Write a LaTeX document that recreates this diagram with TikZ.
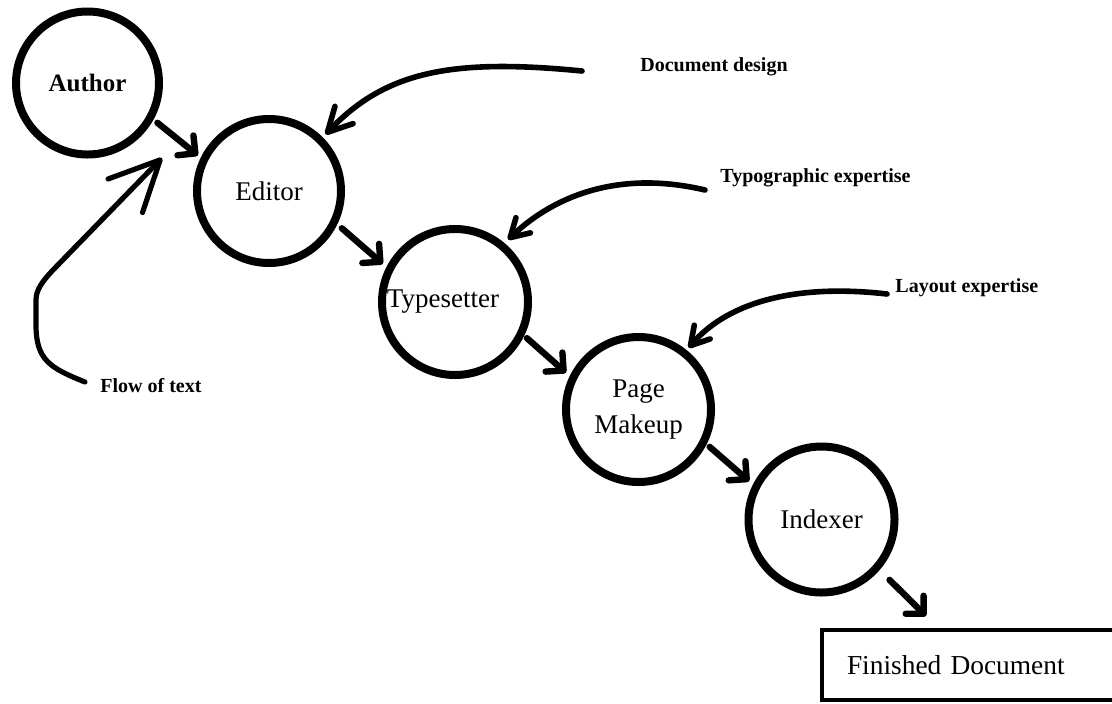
\documentclass[tikz,border=0pt]{standalone}
\usepackage{fontspec}
\setmainfont{Liberation Serif}
\usetikzlibrary{arrows.meta}
\tikzset{
  circ/.style={circle, draw, line width=4pt, inner sep=0pt, font=\fontsize{13.5}{18}\selectfont, align=center},
  lbl/.style={font=\bfseries\fontsize{10}{12}\selectfont, inner sep=0pt, anchor=west},
  flowarrow/.style={line width=3.2pt, line cap=round, -{Straight Barb[length=6.4pt,width=12.7pt,round]}},
  feedM/.style={line width=2.8pt, line cap=round, -{Straight Barb[length=9pt,width=10.5pt,round]}},
  feedL/.style={line width=2.8pt, line cap=round, -{Straight Barb[length=12pt,width=12.5pt,round]}},
  feedXL/.style={line width=2.6pt, line cap=round, -{Straight Barb[length=25pt,width=24pt,round]}},
  docbox/.style={draw, line width=2pt, minimum height=35pt, text width=122pt, inner xsep=12.5pt, align=left, font=\fontsize{13.7}{16}\selectfont}
}
\begin{document}
\begin{tikzpicture}[x=0.5pt, y=-0.5pt]
\useasboundingbox (0,0) rectangle (1112,703);
\fill[white] (0,0) rectangle (1112,703);

% process circles
\node[circ, minimum size=71.5pt, font=\bfseries\fontsize{12.5}{15}\selectfont] (author) at (87.5,83) {Author};
\node[circ, minimum size=72pt] (editor) at (269,191) {Editor};
\node[circ, minimum size=73pt, label={[font=\fontsize{13.5}{18}\selectfont, xshift=-6pt]center:Typesetter}] (ts) at (455,302) {};
\node[circ, minimum size=72.5pt] (pm) at (638.5,409.5) {Page\\Makeup};
\node[circ, minimum size=73pt] (idx) at (821.5,519.5) {Indexer};
\node[docbox] (fin) at (969,665) {Finished Document};

% side labels
\node[lbl] (dd) at (640,67) {Document design};
\node[lbl] (ty) at (720,178) {Typographic expertise};
\node[lbl] (lay) at (895,288) {Layout expertise};
\node[lbl] (flow) at (100,386) {Flow of text};
\coordinate (flowtip) at (162,158);

% main flow arrows
\draw[flowarrow, shorten <=2.5pt, shorten >=1.8pt] (author.-29) -- (editor.154.7);
\draw[flowarrow, shorten <=3pt, shorten >=2.4pt] (editor.-26.9) -- (ts.153.1);
\draw[flowarrow, shorten <=1.8pt, shorten >=2.5pt] (ts.-26.6) -- (pm.154.2);
\draw[flowarrow, shorten <=2pt, shorten >=2.5pt] (pm.-27.7) -- (idx.153.6);
\draw[flowarrow, shorten <=7pt] (idx.-41.5) -- ([xshift=53pt,yshift=6pt]fin.north west);

% expertise arrows
\draw[feedL, shorten >=2pt] ([xshift=-29pt,yshift=-2pt]dd.west) .. controls (450,58) and (385,72) .. (editor.45.5);
\draw[feedM, shorten >=2.5pt] ([xshift=-7.5pt,yshift=-6pt]ty.west) .. controls (620,170) and (555,195) .. (ts.50);
\draw[feedM, shorten >=1.5pt] ([xshift=-4pt,yshift=-3pt]lay.west) .. controls (800,284) and (730,300) .. (pm.51.6);

% flow of text arrow
\draw[feedXL] ([xshift=-7.5pt,yshift=2pt]flow.west) .. controls (50,368) and (36,360) .. (36,325) -- (36,300) .. controls (36,290) and (42,282) .. (52,271) -- (flowtip);
\end{tikzpicture}
\end{document}
